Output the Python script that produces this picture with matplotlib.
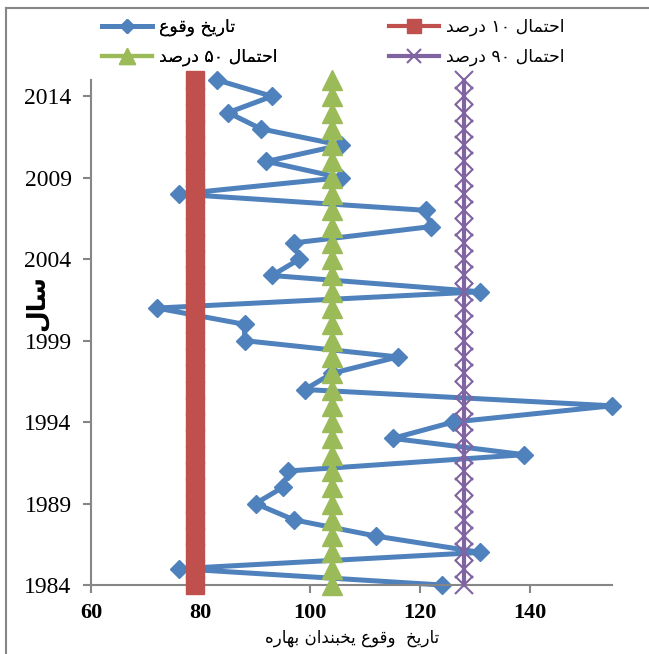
import numpy as np
import matplotlib
matplotlib.use('Agg')
import matplotlib.pyplot as plt
from matplotlib.lines import Line2D

# data
years = list(range(1984, 2016))
occurrence = [124, 76, 131, 112, 97, 90, 95, 96, 139, 115,
              126, 155, 99, 104, 116, 88, 88, 72, 131, 93,
              98, 97, 122, 121, 76, 105.5, 92, 105.5, 91, 85,
              93, 83]
p10 = [79] * len(years)
p50 = [104] * len(years)
p90 = [128] * len(years)

lbl_occ = 'تاریخ وقوع'
lbl_10 = 'احتمال ۱۰ درصد'
lbl_50 = 'احتمال ۵۰ درصد'
lbl_90 = 'احتمال ۹۰ درصد'
xlabel = 'تاریخ  وقوع یخبندان بهاره'
ylabel = 'سال'

# minimal arabic shaping (matplotlib has no bidi / joining)
FORMS = {
    'ا': ('\uFE8D', '\uFE8E', None, None),
    'ب': ('\uFE8F', '\uFE90', '\uFE91', '\uFE92'),
    'ت': ('\uFE95', '\uFE96', '\uFE97', '\uFE98'),
    'ح': ('\uFEA1', '\uFEA2', '\uFEA3', '\uFEA4'),
    'خ': ('\uFEA5', '\uFEA6', '\uFEA7', '\uFEA8'),
    'د': ('\uFEA9', '\uFEAA', None, None),
    'ر': ('\uFEAD', '\uFEAE', None, None),
    'س': ('\uFEB1', '\uFEB2', '\uFEB3', '\uFEB4'),
    'ص': ('\uFEB9', '\uFEBA', '\uFEBB', '\uFEBC'),
    'ع': ('\uFEC9', '\uFECA', '\uFECB', '\uFECC'),
    'ق': ('\uFED5', '\uFED6', '\uFED7', '\uFED8'),
    'ل': ('\uFEDD', '\uFEDE', '\uFEDF', '\uFEE0'),
    'م': ('\uFEE1', '\uFEE2', '\uFEE3', '\uFEE4'),
    'ن': ('\uFEE5', '\uFEE6', '\uFEE7', '\uFEE8'),
    'ه': ('\uFEE9', '\uFEEA', '\uFEEB', '\uFEEC'),
    'و': ('\uFEED', '\uFEEE', None, None),
    'ی': ('\uFBFC', '\uFBFD', '\uFBFE', '\uFBFF'),
}


def joins_next(c):
    return c in FORMS and FORMS[c][2] is not None


def shape(s):
    out = []
    for i, c in enumerate(s):
        if c not in FORMS:
            out.append(c)
            continue
        prev_j = i > 0 and joins_next(s[i - 1])
        next_j = joins_next(c) and i + 1 < len(s) and s[i + 1] in FORMS
        iso, fin, ini, med = FORMS[c]
        if prev_j and next_j:
            out.append(med)
        elif prev_j:
            out.append(fin)
        elif next_j:
            out.append(ini)
        else:
            out.append(iso)
    # visual order: reverse, keep digit runs left-to-right
    rev = out[::-1]
    res, run = [], []
    for c in rev:
        if c.isdigit():
            run.append(c)
        else:
            res.extend(run[::-1])
            run = []
            res.append(c)
    res.extend(run[::-1])
    return ''.join(res)


W, H = 649, 654
fig = plt.figure(figsize=(W / 100, H / 100), dpi=100)
ax = fig.add_axes([91 / W, 1 - 585 / H, (612 - 91) / W, (585 - 80) / H])

blue = '#4F81BD'
red = '#C0504D'
green = '#9BBB59'
purple = '#8064A2'

ax.plot(occurrence, years, color=blue, lw=3.6, marker='D', ms=9,
        clip_on=False, zorder=2, label=shape(lbl_occ))
ax.plot(p10, years, color=red, lw=3, marker='s', ms=12.5, mec=red,
        clip_on=False, zorder=3, label=shape(lbl_10))
ax.plot(p50, years, color=green, lw=3, marker='^', ms=14, mec=green,
        clip_on=False, zorder=4, label=shape(lbl_50))
ax.plot(p90, years, color=purple, lw=3, marker='x', ms=13, mew=1.5,
        clip_on=False, zorder=5, label=shape(lbl_90))

ax.set_xlim(60, 155)
ax.set_ylim(1984, 2015)
ax.set_xticks([60, 80, 100, 120, 140])
ax.set_yticks(range(1984, 2015, 5))

for s in ['top', 'right']:
    ax.spines[s].set_visible(False)
for s in ['left', 'bottom']:
    ax.spines[s].set_color('#868686')
    ax.spines[s].set_linewidth(1.5)
ax.tick_params(axis='both', direction='out', length=6, color='#868686', width=1.5)
ax.tick_params(axis='y', labelsize=17, pad=8)
ax.tick_params(axis='x', labelsize=16, pad=7)
for t in ax.get_yticklabels():
    t.set_fontfamily('Liberation Serif')
for t in ax.get_xticklabels():
    t.set_fontfamily('Liberation Serif')
    t.set_fontweight('bold')

fig.text(36 / W, 1 - 303 / H, shape(ylabel), rotation=90, ha='center', va='center',
         fontsize=18, fontweight='bold', family='DejaVu Sans')
fig.text(352 / W, 1 - 638 / H, shape(xlabel), ha='center', va='center',
         fontsize=12, family='DejaVu Sans')

h, l = ax.get_legend_handles_labels()
leg1 = fig.legend([h[0], h[2]], [l[0], l[2]], loc='upper left',
                  bbox_to_anchor=(86 / W, 1 - 2 / H), frameon=False,
                  handlelength=2.9, markerscale=0.8,
                  labelspacing=0.7, handletextpad=0.4,
                  prop={'family': 'DejaVu Sans', 'size': 12.5})
leg2 = fig.legend([h[1], h[3]], [l[1], l[3]], loc='upper left',
                  bbox_to_anchor=(373 / W, 1 - 2 / H), frameon=False,
                  handlelength=2.9, markerscale=0.8,
                  labelspacing=0.7, handletextpad=0.4,
                  prop={'family': 'DejaVu Sans', 'size': 12.5})
fig.add_artist(leg1)

# chart area border (left and top edges visible)
fig.add_artist(Line2D([6 / W, 6 / W], [0, 1 - 8 / H], transform=fig.transFigure,
                      color='#868686', lw=1.5))
fig.add_artist(Line2D([6 / W, 1], [1 - 8 / H, 1 - 8 / H], transform=fig.transFigure,
                      color='#868686', lw=1.5))

fig.savefig('out.png', dpi=100)
